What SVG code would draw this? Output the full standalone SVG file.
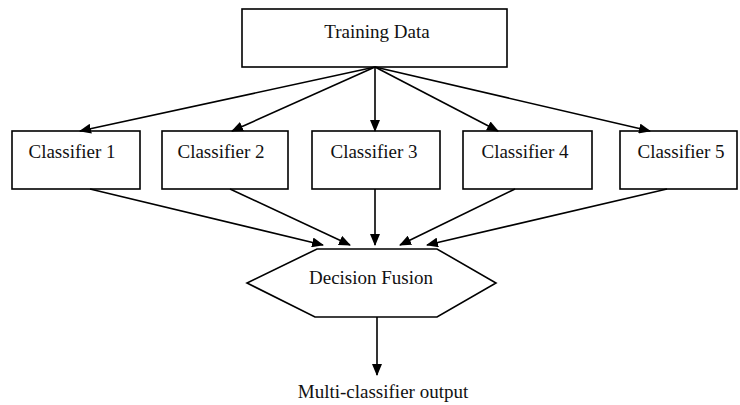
<svg xmlns="http://www.w3.org/2000/svg" width="740" height="405" viewBox="0 0 740 405">
<defs>
<marker id="ah" markerUnits="userSpaceOnUse" markerWidth="12" markerHeight="10" refX="11" refY="5" orient="auto">
<path d="M0,0 L12,5 L0,10 Z" fill="#000"/>
</marker>
<style>
.box{fill:#fff;stroke:#000;stroke-width:1.6}
.lbl{font-family:"Liberation Serif","Times New Roman",serif;font-size:19px;fill:#111;text-anchor:middle}
.con line{stroke:#000;stroke-width:1.6;marker-end:url(#ah)}
</style>
</defs>
<rect width="740" height="405" fill="#fff"/>
<g id="training">
<rect class="box" x="242" y="9" width="265" height="58" stroke-width="2"/>
<text class="lbl" x="377" y="38" font-size="22">Training Data</text>
</g>
<g id="c1"><rect class="box" x="12" y="131" width="128" height="58"/><text class="lbl" x="72" y="158">Classifier 1</text></g>
<g id="c2"><rect class="box" x="162" y="131" width="126" height="58"/><text class="lbl" x="221" y="158">Classifier 2</text></g>
<g id="c3"><rect class="box" x="312" y="131" width="128" height="58"/><text class="lbl" x="374" y="158">Classifier 3</text></g>
<g id="c4"><rect class="box" x="463" y="131" width="129" height="58"/><text class="lbl" x="525" y="158">Classifier 4</text></g>
<g id="c5"><rect class="box" x="620" y="131" width="117" height="58"/><text class="lbl" x="681" y="158">Classifier 5</text></g>
<g id="fusion">
<polygon class="box" points="317,249 437,249 496,283 437,317 315,317 247,283"/>
<text class="lbl" x="371" y="284">Decision Fusion</text>
</g>
<g id="output">
<text class="lbl" x="383" y="398" font-size="18">Multi-classifier output</text>
</g>
<g class="con" id="connectors">
<line x1="375" y1="67" x2="80" y2="131"/>
<line x1="375" y1="67" x2="232" y2="131"/>
<line x1="375" y1="67" x2="375" y2="131"/>
<line x1="375" y1="67" x2="498" y2="131"/>
<line x1="375" y1="67" x2="650" y2="131"/>
<line x1="90" y1="189" x2="323" y2="245"/>
<line x1="230" y1="189" x2="350" y2="245"/>
<line x1="375" y1="189" x2="375" y2="245"/>
<line x1="515" y1="189" x2="400" y2="245"/>
<line x1="667" y1="189" x2="427" y2="245"/>
<line x1="377" y1="317" x2="377" y2="375"/>
</g>
</svg>
